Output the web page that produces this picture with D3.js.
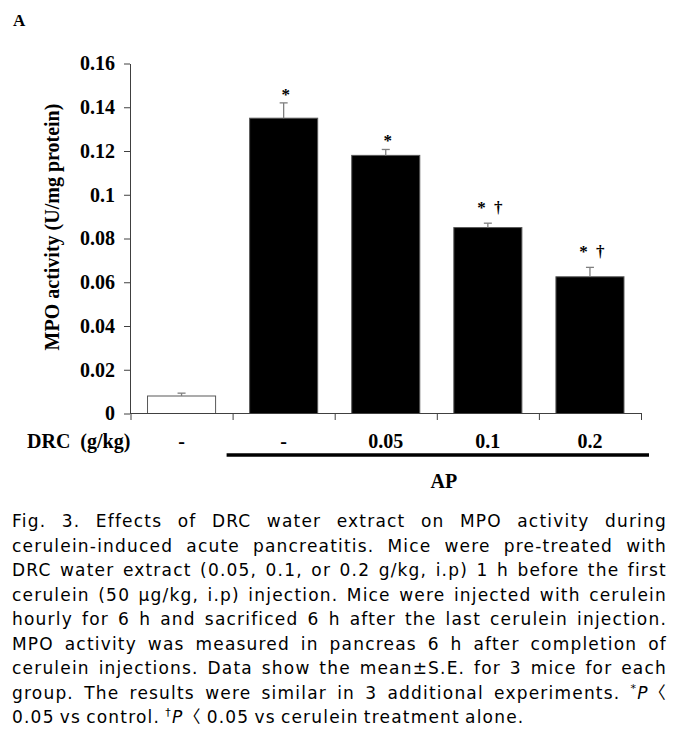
<!DOCTYPE html>
<html>
<head>
<meta charset="utf-8">
<script src="https://cdn.jsdelivr.net/npm/d3@7"></script>
<style>
body { margin: 0; background: #fff; }
</style>
</head>
<body>
<script>
// chart data
const groups = ["control", "AP", "AP+0.05", "AP+0.1", "AP+0.2"];
const doseLabels = ["-", "-", "0.05", "0.1", "0.2"];
const inAP = [false, true, true, true, true];
const means = [0.008, 0.135, 0.118, 0.085, 0.0625];
const errors = [0.0013, 0.007, 0.0027, 0.002, 0.0043];
const marks = ["", "*", "*", "* \u2020", "* \u2020"];
const yTicks = [0, 0.02, 0.04, 0.06, 0.08, 0.1, 0.12, 0.14, 0.16];
const yTickLabels = ["0", "0.02", "0.04", "0.06", "0.08", "0.1", "0.12", "0.14", "0.16"];

// caption, [..] = superscript, {..} = italic
const captionLines = [
	"Fig. 3. Effects of DRC water extract on MPO activity during",
	"cerulein-induced acute pancreatitis. Mice were pre-treated with",
	"DRC water extract (0.05, 0.1, or 0.2 g/kg, i.p) 1 h before the first",
	"cerulein (50 \u03bcg/kg, i.p) injection. Mice were injected with cerulein",
	"hourly for 6 h and sacrificed 6 h after the last cerulein injection.",
	"MPO activity was measured in pancreas 6 h after completion of",
	"cerulein injections. Data show the mean\u00b1S.E. for 3 mice for each",
	"group. The results were similar in 3 additional experiments. [*]{P}\u3008",
	"0.05 vs control. [\u2020]{P}\u3008 0.05 vs cerulein treatment alone."
];

const width = 675, height = 750,
	serif = "'Liberation Serif','Times New Roman',serif",
	sans = "'DejaVu Sans','Noto Sans CJK KR',sans-serif";

const svg = d3.select("body").append("svg")
	.attr("width", width)
	.attr("height", height);

const y = d3.scaleLinear().domain([0, 0.16]).range([413.5, 63.5]);
const x = d3.scaleBand().domain(groups).range([130.5, 641])
	.paddingInner(1 / 3).paddingOuter(1 / 6);
const xb = d3.scaleLinear().domain([0, groups.length]).range(x.range());

// panel letter
svg.append("text")
	.attr("x", 13).attr("y", 26)
	.attr("font-family", serif).attr("font-size", 17).attr("font-weight", "bold")
	.text("A");

// y axis
const yAxis = svg.append("g")
	.attr("transform", "translate(130,0)")
	.call(d3.axisLeft(y).tickValues(yTicks).tickFormat((d, i) => yTickLabels[i])
		.tickSizeInner(6).tickSizeOuter(0).tickPadding(9));
yAxis.selectAll("path, line").attr("stroke", "#404040");
yAxis.selectAll("text")
	.attr("font-family", serif).attr("font-size", 20).attr("font-weight", "bold")
	.attr("fill", "#000");

svg.append("text")
	.attr("transform", "translate(58.5,227) rotate(-90)")
	.attr("text-anchor", "middle")
	.attr("font-family", serif).attr("font-size", 20).attr("font-weight", "bold")
	.text("MPO activity (U/mg protein)");

// bars
svg.selectAll("rect.bar")
	.data(groups)
	.join("rect")
	.attr("class", "bar")
	.attr("x", d => x(d))
	.attr("y", (d, i) => y(means[i]))
	.attr("width", x.bandwidth())
	.attr("height", (d, i) => y(0) - y(means[i]))
	.attr("fill", (d, i) => inAP[i] ? "#000" : "#fff")
	.attr("stroke", "#595959")
	.attr("stroke-width", 1);

// error bars (upper only)
const eb = svg.selectAll("g.err")
	.data(groups)
	.join("g")
	.attr("class", "err")
	.attr("stroke", "#7f7f7f")
	.attr("stroke-width", 1.3);
eb.append("line")
	.attr("x1", d => x(d) + x.bandwidth() / 2)
	.attr("x2", d => x(d) + x.bandwidth() / 2)
	.attr("y1", (d, i) => y(means[i]))
	.attr("y2", (d, i) => y(means[i] + errors[i]));
eb.append("line")
	.attr("x1", d => x(d) + x.bandwidth() / 2 - 4)
	.attr("x2", d => x(d) + x.bandwidth() / 2 + 4)
	.attr("y1", (d, i) => y(means[i] + errors[i]))
	.attr("y2", (d, i) => y(means[i] + errors[i]));

// significance marks
svg.selectAll("text.mark")
	.data(groups)
	.join("text")
	.attr("class", "mark")
	.attr("x", d => x(d) + x.bandwidth() / 2 + 2)
	.attr("y", (d, i) => y(means[i] + errors[i]) - (marks[i].includes("\u2020") ? 10 : 3))
	.attr("text-anchor", "middle")
	.attr("font-family", serif).attr("font-size", 17).attr("font-weight", "bold")
	.style("white-space", "pre")
	.attr("word-spacing", 4)
	.text((d, i) => marks[i]);

// x axis with ticks at group boundaries
const xAxis = svg.append("g")
	.attr("transform", `translate(0,${y(0) - 0.5})`)
	.call(d3.axisBottom(xb).tickValues(d3.range(groups.length + 1)).tickFormat("")
		.tickSizeInner(7).tickSizeOuter(0));
xAxis.selectAll("path, line").attr("stroke", "#404040");

// dose row
svg.append("text")
	.attr("x", 27).attr("y", 448)
	.attr("font-family", serif).attr("font-size", 20).attr("font-weight", "bold")
	.attr("word-spacing", 5)
	.text("DRC (g/kg)");
svg.selectAll("text.dose")
	.data(groups)
	.join("text")
	.attr("class", "dose")
	.attr("x", d => x(d) + x.bandwidth() / 2)
	.attr("y", 448)
	.attr("text-anchor", "middle")
	.attr("font-family", serif).attr("font-size", 20).attr("font-weight", "bold")
	.text((d, i) => doseLabels[i]);

// AP bracket line
const apIdx = inAP.map((v, i) => v ? i : -1).filter(i => i >= 0);
svg.append("line")
	.attr("x1", xb(apIdx[0]) - 6)
	.attr("x2", xb(apIdx[apIdx.length - 1] + 1) + 8)
	.attr("y1", 455).attr("y2", 455)
	.attr("stroke", "#000").attr("stroke-width", 3.5);
svg.append("text")
	.attr("x", (xb(apIdx[0]) + xb(apIdx[apIdx.length - 1] + 1)) / 2 + 7)
	.attr("y", 488)
	.attr("text-anchor", "middle")
	.attr("font-family", serif).attr("font-size", 20).attr("font-weight", "bold")
	.text("AP");

// caption, justified word by word
const capLeft = 12, capRight = 667, capTop = 527, capStep = 24.5, capSize = 17;
const cap = svg.append("g")
	.attr("font-family", sans).attr("font-size", capSize)
	.attr("letter-spacing", 1.2)
	.attr("fill", "#000");

function addWord(g, word) {
	const t = g.append("text");
	const re = /\[([^\]]*)\]|\{([^}]*)\}|([^\[\{]+)/g;
	let m, shifted = false;
	while ((m = re.exec(word)) !== null) {
		const ts = t.append("tspan");
		if (m[1] !== undefined) {
			ts.attr("font-size", capSize * 0.65).attr("dy", -7).text(m[1]);
			shifted = true;
		} else {
			if (shifted) { ts.attr("dy", 7); shifted = false; }
			if (m[2] !== undefined) ts.attr("font-style", "italic").text(m[2]);
			else ts.text(m[3]);
		}
	}
	return t;
}

captionLines.forEach((line, li) => {
	const g = cap.append("g").attr("transform", `translate(0,${capTop + li * capStep})`);
	const words = line.split(" ");
	const nodes = words.map(w => addWord(g, w));
	const widths = nodes.map(n => n.node().getComputedTextLength());
	const total = d3.sum(widths);
	const last = li === captionLines.length - 1;
	const gap = last ? capSize * 0.3 : (capRight - capLeft - total) / (words.length - 1);
	let cx = capLeft;
	nodes.forEach((n, i) => {
		n.attr("x", cx);
		cx += widths[i] + gap;
	});
});
</script>
</body>
</html>
